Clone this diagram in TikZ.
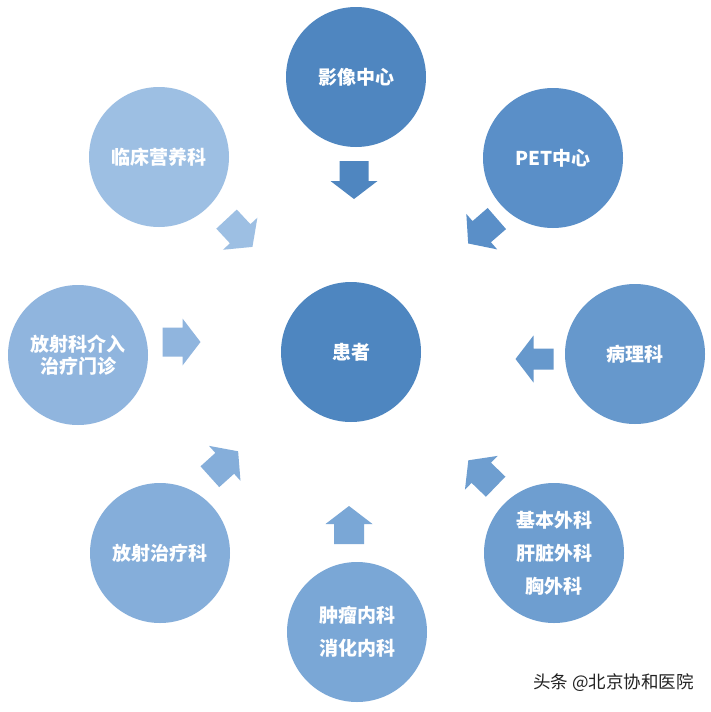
\documentclass[tikz,border=0pt]{standalone}
\usepackage{fontspec}
\newfontfamily\cjk{Noto Sans CJK SC}
\definecolor{c0}{HTML}{4E86C0}
\definecolor{c1}{HTML}{4F86C0}
\definecolor{c2}{HTML}{5A8FC8}
\definecolor{c3}{HTML}{6698CC}
\definecolor{c4}{HTML}{6E9ED0}
\definecolor{c5}{HTML}{7AA7D6}
\definecolor{c6}{HTML}{85AEDA}
\definecolor{c7}{HTML}{90B5DE}
\definecolor{c8}{HTML}{9DBFE3}
\definecolor{wm}{HTML}{222222}
\begin{document}
\begin{tikzpicture}[x=1pt,y=-1pt,
  dept/.style={circle, minimum size=140pt, inner sep=0pt, text=white,
    font=\cjk\bfseries\fontsize{19}{33}\selectfont, align=center},
  tightdept/.style={dept, font=\cjk\bfseries\fontsize{19}{22}\selectfont},
  pics/barrow/.style={code={\fill[pic actions] (-19,-#1) -- (1,-#1) -- (1,-23.5) -- (19,0) -- (1,23.5) -- (1,#1) -- (-19,#1) -- cycle;}}]
\useasboundingbox (0,0) rectangle (711,712);
\fill[white] (0,0) rectangle (711,712);

% centre
\node[dept, fill=c0] (pat) at (351,352) {患者};

% departments
\node[dept, fill=c1] (img) at (356,77) {影像中心};
\node[dept, fill=c2] (pet) at (553,158) {PET中心};
\node[dept, fill=c3] (path) at (635,354) {病理科};
\node[dept, fill=c4] (surg) at (554,553) {基本外科\\肝脏外科\\胸外科};
\node[dept, fill=c5] (onc) at (357,632) {肿瘤内科\\消化内科};
\node[dept, fill=c6] (rt) at (160,553) {放射治疗科};
\node[tightdept, fill=c7] (ir) at (78,355) {放射科介入\\治疗门诊};
\node[dept, fill=c8] (nut) at (159,157) {临床营养科};

% block arrows pointing to the centre
\pic[fill=c1, rotate=-90] at (354,180) {barrow=14.5};
\pic[fill=c2, rotate=-139] at (482.5,231) {barrow=14};
\pic[fill=c3, rotate=180] at (534.5,359) {barrow=10.5};
\pic[fill=c4, rotate=136] at (482,473.5) {barrow=14};
\pic[fill=c5, rotate=90] at (349,525) {barrow=15};
\pic[fill=c6, rotate=42] at (224,464) {barrow=14};
\pic[fill=c7, rotate=0] at (181.5,342) {barrow=14.5};
\pic[fill=c8, rotate=-47] at (239.5,233) {barrow=14};

% watermark
\node[anchor=east, text=wm, font=\cjk\fontsize{17.5}{19}\selectfont, inner sep=0pt] (wmk) at (694,683) {头条 @北京协和医院};
\end{tikzpicture}
\end{document}
